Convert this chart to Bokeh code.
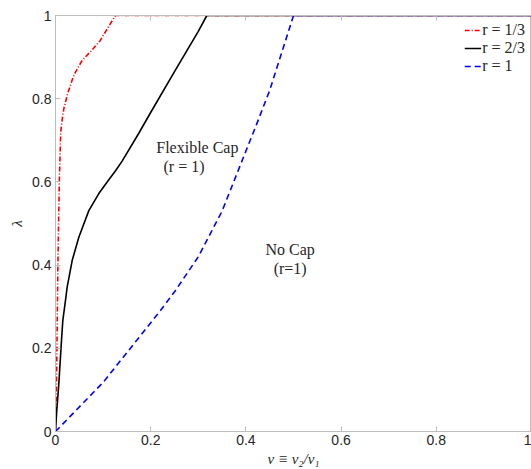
from bokeh.plotting import figure
from bokeh.models import LinearAxis, FixedTicker, CustomJSTickFormatter, Legend, LegendItem, Label
from bokeh.embed import file_html
from bokeh.resources import INLINE

# data
red_x = [0, 0.002, 0.003, 0.005, 0.008, 0.011, 0.014, 0.0175, 0.025, 0.035, 0.042, 0.056, 0.075, 0.094, 0.115, 0.126, 1.0]
red_y = [0, 0.10, 0.20, 0.40, 0.60, 0.72, 0.75, 0.776, 0.81, 0.845, 0.864, 0.892, 0.915, 0.94, 0.98, 1.0, 1.0]

black_x = [0, 0.002, 0.007, 0.0126, 0.0154, 0.021, 0.0245, 0.035, 0.049, 0.07, 0.091, 0.112, 0.125, 0.14,
           0.175, 0.199, 0.25, 0.30, 0.318, 1.0]
black_y = [0, 0.04, 0.115, 0.219, 0.267, 0.315, 0.347, 0.411, 0.467, 0.531, 0.572, 0.605, 0.625, 0.65,
           0.717, 0.765, 0.865, 0.962, 1.0, 1.0]

blue_x = [0, 0.10, 0.22, 0.252, 0.30, 0.35, 0.409, 0.423, 0.45, 0.50, 1.0]
blue_y = [0, 0.118, 0.29, 0.339, 0.42, 0.53, 0.70, 0.74, 0.82, 1.0, 1.0]

ticks = [0, 0.2, 0.4, 0.6, 0.8, 1]
legend_labels = ["r = 1/3", "r = 2/3", "r = 1"]

gray = "#bdbdbd"
txt = "#262626"
serif = "Liberation Serif"
sans = "Liberation Sans"

p = figure(width=531, height=469, x_range=(0, 1), y_range=(0, 1),
           output_backend="svg", toolbar_location=None,
           min_border_left=55, min_border_right=0, min_border_top=15, min_border_bottom=38,
           x_axis_label="v ≡ v₂/v₁", y_axis_label="λ")
p.grid.visible = False
p.outline_line_color = gray

for ax in [p.xaxis[0], p.yaxis[0]]:
    ax.ticker = FixedTicker(ticks=ticks)
    ax.axis_line_color = gray
    ax.major_tick_line_color = gray
    ax.major_tick_in = 5
    ax.major_tick_out = 0
    ax.minor_tick_line_color = None
    ax.major_label_text_font = sans
    ax.major_label_text_font_size = "14px"
    ax.major_label_text_color = txt
    ax.axis_label_text_font = serif
    ax.axis_label_text_font_size = "15px"
    ax.axis_label_text_font_style = "italic"
    ax.axis_label_text_color = txt
    ax.formatter = CustomJSTickFormatter(code="return tick.toFixed(1).replace(/\\.0$/, '');")

p.xaxis.major_label_standoff = 3
p.xaxis.axis_label_standoff = 3
p.yaxis.major_label_standoff = 4
p.yaxis.axis_label_standoff = 4

top = LinearAxis(ticker=FixedTicker(ticks=ticks),
                 formatter=CustomJSTickFormatter(code="return '';"),
                 axis_line_color=gray, major_tick_line_color=gray,
                 major_tick_in=5, major_tick_out=0, minor_tick_line_color=None,
                 major_label_standoff=0, major_label_text_font_size="1px")
p.add_layout(top, "above")

r1 = p.line(red_x, red_y, line_color="#ff0000", line_width=1.6, line_dash="5 2 1 2")
r2 = p.line(black_x, black_y, line_color="black", line_width=1.6)
r3 = p.line(blue_x, blue_y, line_color="#0000ff", line_width=1.6, line_dash="6 4")

leg = Legend(items=[LegendItem(label=legend_labels[0], renderers=[r1]),
                    LegendItem(label=legend_labels[1], renderers=[r2]),
                    LegendItem(label=legend_labels[2], renderers=[r3])],
             location="top_right")
leg.border_line_color = None
leg.background_fill_alpha = 0
leg.label_text_font = serif
leg.label_text_font_size = "16px"
leg.label_text_color = txt
leg.glyph_width = 17
leg.glyph_height = 18
leg.label_height = 18
leg.spacing = 0
leg.padding = 2
leg.margin = 6
leg.label_standoff = 1
p.add_layout(leg)

for (x, y, t) in [(0.298, 0.683, "Flexible Cap"), (0.27, 0.637, "(r = 1)"),
                  (0.493, 0.4375, "No Cap"), (0.493, 0.392, "(r=1)")]:
    p.add_layout(Label(x=x, y=y, text=t, text_align="center", text_baseline="middle",
                       text_font=serif, text_font_size="16px", text_color=txt))

open("out.html", "w").write(file_html(p, INLINE))
